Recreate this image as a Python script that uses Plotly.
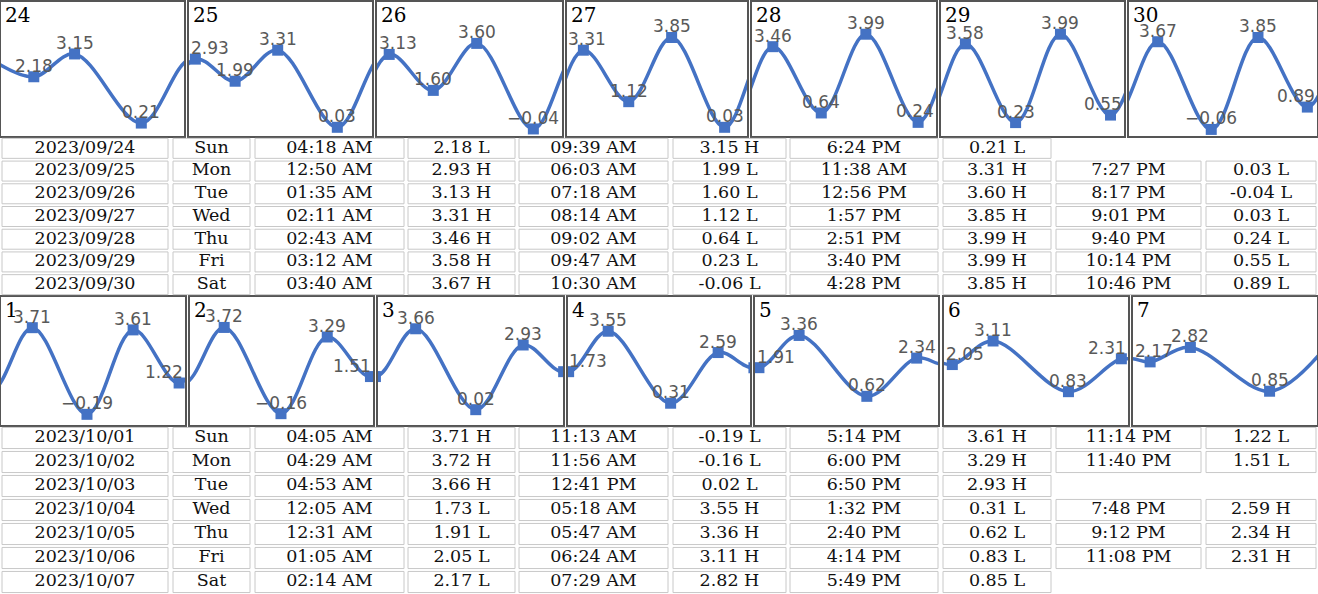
"""
Tabla de mareas 2023/09/24 – 2023/10/07: curva diaria + tabla de pleamares/bajamares.
"""
from datetime import datetime
import plotly.graph_objects as go

# ── Datos ──────────────────────────────────────────────────────────────────────
dates = ["2023/09/24", "2023/09/25", "2023/09/26", "2023/09/27", "2023/09/28",
         "2023/09/29", "2023/09/30", "2023/10/01", "2023/10/02", "2023/10/03",
         "2023/10/04", "2023/10/05", "2023/10/06", "2023/10/07"]
weekdays = ["Sun", "Mon", "Tue", "Wed", "Thu", "Fri", "Sat",
            "Sun", "Mon", "Tue", "Wed", "Thu", "Fri", "Sat"]
day_labels = ["24", "25", "26", "27", "28", "29", "30",
              "1", "2", "3", "4", "5", "6", "7"]

tide_times = [
    ["04:18 AM", "09:39 AM", "6:24 PM"],
    ["12:50 AM", "06:03 AM", "11:38 AM", "7:27 PM"],
    ["01:35 AM", "07:18 AM", "12:56 PM", "8:17 PM"],
    ["02:11 AM", "08:14 AM", "1:57 PM", "9:01 PM"],
    ["02:43 AM", "09:02 AM", "2:51 PM", "9:40 PM"],
    ["03:12 AM", "09:47 AM", "3:40 PM", "10:14 PM"],
    ["03:40 AM", "10:30 AM", "4:28 PM", "10:46 PM"],
    ["04:05 AM", "11:13 AM", "5:14 PM", "11:14 PM"],
    ["04:29 AM", "11:56 AM", "6:00 PM", "11:40 PM"],
    ["04:53 AM", "12:41 PM", "6:50 PM"],
    ["12:05 AM", "05:18 AM", "1:32 PM", "7:48 PM"],
    ["12:31 AM", "05:47 AM", "2:40 PM", "9:12 PM"],
    ["01:05 AM", "06:24 AM", "4:14 PM", "11:08 PM"],
    ["02:14 AM", "07:29 AM", "5:49 PM"],
]
tide_heights = [
    [2.18, 3.15, 0.21],
    [2.93, 1.99, 3.31, 0.03],
    [3.13, 1.60, 3.60, -0.04],
    [3.31, 1.12, 3.85, 0.03],
    [3.46, 0.64, 3.99, 0.24],
    [3.58, 0.23, 3.99, 0.55],
    [3.67, -0.06, 3.85, 0.89],
    [3.71, -0.19, 3.61, 1.22],
    [3.72, -0.16, 3.29, 1.51],
    [3.66, 0.02, 2.93],
    [1.73, 3.55, 0.31, 2.59],
    [1.91, 3.36, 0.62, 2.34],
    [2.05, 3.11, 0.83, 2.31],
    [2.17, 2.82, 0.85],
]
tide_types = ["LHL", "HLHL", "HLHL", "HLHL", "HLHL", "HLHL", "HLHL",
              "HLHL", "HLHL", "HLH", "LHLH", "LHLH", "LHLH", "LHL"]

# extremos vecinos (estimados) para que la curva siga en los bordes
prev_extreme = ("2023/09/23 10:50 PM", 2.90)
next_extreme = ("2023/10/08 12:50 AM", 2.72)

# ── Layout ─────────────────────────────────────────────────────────────────────
W, H = 1318, 594
BLUE = '#4472C4'
panel_x = [[(1, 184), (189, 372), (377, 562), (567, 747), (752, 936), (941, 1124), (1129, 1317)],
           [(1, 185), (190, 373), (378, 563), (568, 750), (755, 938), (944, 1128), (1133, 1317)]]
panel_y = [(2, 136), (297, 425)]
y_ranges = [(-0.34, 5.36), (-0.67, 5.09)]
table_y = [(137, 296), (426, 594)]
col_edges = [(2, 168), (173, 250), (255, 404), (408, 515), (519, 668),
             (673, 786), (790, 938), (943, 1051), (1056, 1201), (1206, 1316)]
LABEL_PAD = 2.7   # horas: mantiene las etiquetas dentro del recuadro


def parse(s):
    return datetime.strptime(s, "%Y/%m/%d %I:%M %p")


def ax(n):
    return '' if n == 1 else str(n)


all_t = [parse(prev_extreme[0])]
all_h = [prev_extreme[1]]
for d, ts, hs in zip(dates, tide_times, tide_heights):
    for t, h in zip(ts, hs):
        all_t.append(parse(f"{d} {t}"))
        all_h.append(h)
all_t.append(parse(next_extreme[0]))
all_h.append(next_extreme[1])

fig = go.Figure()
annotations = []
shapes = []
layout_axes = {}

# ── Gráficos diarios ───────────────────────────────────────────────────────────
for k, d in enumerate(dates):
    n = ax(k + 1)
    row, col = divmod(k, 7)
    day0 = datetime.strptime(d, "%Y/%m/%d")
    xs, ys = [], []
    for t, h in zip(all_t, all_h):
        hr = (t - day0).total_seconds() / 3600
        if -30 <= hr <= 54:
            xs.append(hr)
            ys.append(h)
    fig.add_trace(go.Scatter(
        x=xs, y=ys, mode='lines+markers', xaxis=f'x{n}', yaxis=f'y{n}',
        line=dict(color=BLUE, width=3.5, shape='spline'),
        marker=dict(symbol='square', size=11, color=BLUE),
        cliponaxis=True, hoverinfo='skip', showlegend=False))

    x0, x1 = panel_x[row][col]
    y0, y1 = panel_y[row]
    frame = dict(showline=True, mirror=True, linecolor='#555', linewidth=2,
                 showticklabels=False, showgrid=False, zeroline=False, ticks='',
                 fixedrange=True)
    layout_axes[f'xaxis{n}'] = dict(frame, domain=[x0 / W, x1 / W], range=[0, 24],
                                    anchor=f'y{n}')
    layout_axes[f'yaxis{n}'] = dict(frame, domain=[1 - y1 / H, 1 - y0 / H],
                                    range=list(y_ranges[row]), anchor=f'x{n}')

    # etiquetas de valor (solo extremos del día)
    for t, h in zip(tide_times[k], tide_heights[k]):
        hr = (parse(f"{d} {t}") - day0).total_seconds() / 3600
        annotations.append(dict(
            xref=f'x{n}', yref=f'y{n}', x=min(max(hr, LABEL_PAD), 24 - LABEL_PAD), y=h,
            text=f"{h:.2f}".replace('-', '\u2212'), showarrow=False,
            yanchor='middle', yshift=11,
            font=dict(family='DejaVu Sans', size=17, color='#595959')))

    annotations.append(dict(
        xref=f'x{n} domain', yref=f'y{n} domain', x=0, y=1, xanchor='left', yanchor='top',
        xshift=2, yshift=1, text=day_labels[k], showarrow=False,
        font=dict(family='DejaVu Serif', size=20, color='black')))

# ── Tablas ─────────────────────────────────────────────────────────────────────
for tb in range(2):
    n = 15 + tb
    ty0, ty1 = table_y[tb]
    layout_axes[f'xaxis{n}'] = dict(domain=[0, 1], range=[0, W], visible=False,
                                    anchor=f'y{n}', fixedrange=True)
    layout_axes[f'yaxis{n}'] = dict(domain=[1 - ty1 / H, 1 - ty0 / H], range=[7, 0],
                                    visible=False, anchor=f'x{n}', fixedrange=True)
    tx, ty, tt = [], [], []
    for i in range(7):
        k = tb * 7 + i
        cells = [dates[k], weekdays[k]]
        for t, h, typ in zip(tide_times[k], tide_heights[k], tide_types[k]):
            cells += [t, f"{h:.2f} {typ}"]
        for j, txt in enumerate(cells):
            cx0, cx1 = col_edges[j]
            shapes.append(dict(type='rect', xref=f'x{n}', yref=f'y{n}',
                               x0=cx0, x1=cx1, y0=i + 0.06, y1=i + 0.94,
                               line=dict(color='#c8c8c8', width=1),
                               fillcolor='white', layer='below'))
            tx.append((cx0 + cx1) / 2)
            ty.append(i + 0.5)
            tt.append(txt)
    fig.add_trace(go.Scatter(
        x=tx, y=ty, text=tt, mode='text', xaxis=f'x{n}', yaxis=f'y{n}',
        textposition='middle center',
        textfont=dict(family='DejaVu Serif', size=17.5, color='#111111'),
        hoverinfo='skip', showlegend=False))

fig.update_layout(
    width=W, height=H, margin=dict(l=0, r=0, t=0, b=0),
    paper_bgcolor='white', plot_bgcolor='white',
    annotations=annotations, shapes=shapes, **layout_axes)

fig.write_html("out.html", config={'displayModeBar': False},
               post_script="document.body.style.margin = '0px';")
